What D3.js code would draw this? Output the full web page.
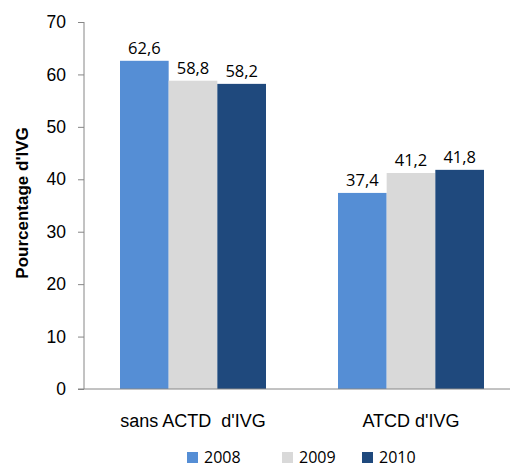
<!DOCTYPE html>
<html><head><meta charset="utf-8">
<script src="https://cdn.jsdelivr.net/npm/d3@7"></script>
<style>body{margin:0;background:#fff}svg{display:block}</style>
</head><body>
<svg id="c" width="510" height="468"></svg>
<script>
const categories = ["sans ACTD  d'IVG", "ATCD d'IVG"];
const years = ["2008", "2009", "2010"];
const values2008 = [62.6, 37.4];
const values2009 = [58.8, 41.2];
const values2010 = [58.2, 41.8];
const yTicks = [0, 10, 20, 30, 40, 50, 60, 70];
const colors = ["#558ED5", "#D9D9D9", "#1F497D"];

const series = [values2008, values2009, values2010];
const svg = d3.select("#c");
const x0 = d3.scaleBand().domain(categories).range([84, 520]).paddingInner(0).paddingOuter(0);
const x1 = d3.scaleBand().domain(years).range([36, x0.bandwidth() - 36]).paddingInner(0).paddingOuter(0);
const y = d3.scaleLinear().domain([0, 70]).range([389, 22]);

const fmt = v => d3.format(".1f")(v).replace(".", ",");

// bars
years.forEach((yr, si) => {
  const g = svg.append("g");
  g.selectAll("rect").data(categories).enter().append("rect")
    .attr("x", c => x0(c) + x1(yr))
    .attr("y", (c, i) => y(series[si][i]))
    .attr("width", x1.bandwidth())
    .attr("height", (c, i) => y(0) - y(series[si][i]))
    .attr("fill", colors[si]);
  g.selectAll("text").data(categories).enter().append("text")
    .attr("x", c => x0(c) + x1(yr) + x1.bandwidth() / 2)
    .attr("y", (c, i) => y(series[si][i]) - 7)
    .attr("text-anchor", "middle")
    .attr("font-family", "'Open Sans', sans-serif")
    .attr("font-size", 16.5)
    .attr("fill", "#000")
    .text((c, i) => fmt(series[si][i]));
});

// y axis
const yAxis = d3.axisLeft(y).tickValues(yTicks).tickSize(6).tickPadding(12);
const ya = svg.append("g").attr("transform", "translate(84,0)").call(yAxis);
ya.select(".domain").attr("stroke", "#868686").attr("d", "M0,22V389");
ya.selectAll(".tick line").attr("stroke", "#868686");
ya.selectAll(".tick text").attr("font-family", "'Liberation Sans', Arial, sans-serif").attr("font-size", 17.5).attr("fill", "#000");

// x axis
const xa = svg.append("g").attr("transform", "translate(0,389)").call(d3.axisBottom(x0).tickSize(0).tickPadding(25));
xa.select(".domain").attr("stroke", "#868686").attr("d", "M78,0H520");
xa.selectAll(".tick text").attr("font-family", "'Liberation Sans', Arial, sans-serif").attr("font-size", 18).attr("fill", "#000").style("white-space", "pre").attr("xml:space", "preserve");

// y title
svg.append("text")
  .attr("transform", "translate(28,203) rotate(-90)")
  .attr("text-anchor", "middle")
  .attr("font-family", "'Liberation Sans', Arial, sans-serif")
  .attr("font-weight", "bold")
  .attr("font-size", 17)
  .text("Pourcentage d'IVG");

// legend
const legX = [187, 282, 362];
const leg = svg.append("g");
years.forEach((yr, i) => {
  leg.append("rect").attr("x", legX[i]).attr("y", 452).attr("width", 11).attr("height", 11).attr("fill", colors[i]);
  leg.append("text").attr("x", legX[i] + 17).attr("y", 463)
    .attr("font-family", "'Open Sans', sans-serif").attr("font-size", 16).attr("fill", "#000").text(yr);
});
</script>
</body></html>
